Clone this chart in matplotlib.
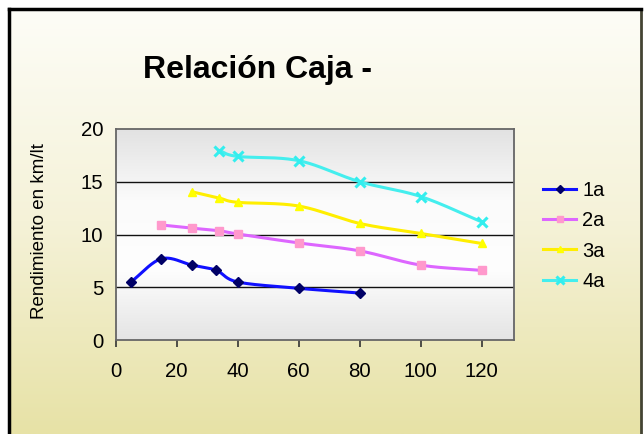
import numpy as np
import matplotlib
matplotlib.use("Agg")
import matplotlib.pyplot as plt
from matplotlib.colors import LinearSegmentedColormap
from matplotlib.lines import Line2D

plt.rcParams['font.family'] = ['Liberation Sans', 'DejaVu Sans']

# ---- data ----
title = "Relación Caja -"
ylabel = "Rendimiento en km/lt"
series_names = ["1a", "2a", "3a", "4a"]
x1 = [5, 15, 25, 33, 40, 60, 80]
y1 = [5.5, 7.7, 7.1, 6.6, 5.5, 4.9, 4.45]
x2 = [15, 25, 34, 40, 60, 80, 100, 120]
y2 = [10.9, 10.6, 10.35, 10.05, 9.2, 8.45, 7.1, 6.6]
x3 = [25, 34, 40, 60, 80, 100, 120]
y3 = [14.05, 13.45, 13.05, 12.7, 11.05, 10.1, 9.15]
x4 = [34, 40, 60, 80, 100, 120]
y4 = [17.95, 17.4, 17.0, 15.0, 13.6, 11.2]
xticks = [0, 20, 40, 60, 80, 100, 120]
yticks = [0, 5, 10, 15, 20]

line_colors = ["#1010ff", "#dd66ff", "#ffee00", "#44eeee"]
marker_face = ["#000066", "#ff99cc", "#ffff00", "#33eeee"]
markers = ["D", "s", "^", "x"]

W, H = 644, 434
fig = plt.figure(figsize=(W / 100, H / 100), dpi=100)
fig.patch.set_facecolor("white")

# background panel with gradient
bg = fig.add_axes([9 / W, 0, (641 - 9) / W, (H - 9) / H], zorder=0)
grad = np.linspace(0, 1, 256).reshape(-1, 1)
cm_bg = LinearSegmentedColormap.from_list("bg", ["#fdfdf7", "#f5f2d8", "#e7e2a6"])
bg.imshow(grad, aspect="auto", cmap=cm_bg, extent=[0, 1, 0, 1], origin="upper")
bg.set_xlim(0, 1); bg.set_ylim(0, 1)
bg.set_xticks([]); bg.set_yticks([])
bg.spines["bottom"].set_visible(False)
bg.spines["top"].set_linewidth(2.5)
bg.spines["left"].set_linewidth(2.5)
bg.spines["right"].set_linewidth(2.0)
bg.spines["right"].set_color("#444433")

# main axes
ax = fig.add_axes([115.7 / W, 94 / H, 398.6 / W, 211 / H], zorder=2)
cm_pa = LinearSegmentedColormap.from_list("pa", ["#e2e2e2", "#fbfbfb", "#fefefe", "#e4e4e4"])
ax.imshow(grad, aspect="auto", cmap=cm_pa, extent=[0, 1, 0, 1],
          transform=ax.transAxes, origin="upper", zorder=0)
ax.set_xlim(0, 130.7)
ax.set_ylim(0, 20)
for yv in yticks[1:-1]:
    ax.axhline(yv, color="#111111", lw=1.0, zorder=1)
for s in ax.spines.values():
    s.set_color("#666666")
    s.set_linewidth(1.3)


def smooth(xs, ys, sx=3.05, sy=10.55, n=30):
    P = np.column_stack([np.asarray(xs, float) * sx, np.asarray(ys, float) * sy])
    if len(P) < 3:
        return xs, ys
    ext = np.vstack([2 * P[0] - P[1], P, 2 * P[-1] - P[-2]])
    out = []
    for i in range(1, len(ext) - 2):
        p0, p1, p2, p3 = ext[i - 1], ext[i], ext[i + 1], ext[i + 2]
        t = np.linspace(0, 1, n, endpoint=False)[:, None]
        c = 0.5 * ((2 * p1) + (-p0 + p2) * t + (2 * p0 - 5 * p1 + 4 * p2 - p3) * t ** 2
                   + (-p0 + 3 * p1 - 3 * p2 + p3) * t ** 3)
        out.append(c)
    out.append(P[-1:])
    out = np.vstack(out)
    return out[:, 0] / sx, out[:, 1] / sy


data = [(x1, y1), (x2, y2), (x3, y3), (x4, y4)]
handles = []
for i, (xs, ys) in enumerate(data):
    sx_, sy_ = smooth(xs, ys)
    ax.plot(sx_, sy_, color=line_colors[i], lw=2.2, zorder=3, clip_on=False)
    mkw = dict(marker=markers[i], ms=6, mfc=marker_face[i], mec=marker_face[i])
    if markers[i] == "x":
        mkw["ms"] = 7
        mkw["mew"] = 2.2
    if markers[i] == "D":
        mkw["ms"] = 5.5
    ax.plot(xs, ys, linestyle="none", zorder=4, clip_on=False, **mkw)
    lkw = dict(mkw)
    lkw["ms"] = mkw["ms"] * 0.8
    h = Line2D([], [], color=line_colors[i], lw=2.2, **lkw)
    handles.append(h)

ax.set_xticks(xticks)
ax.set_yticks(yticks)
ax.tick_params(axis="x", length=5, width=1.2, color="#333333", pad=11, labelsize=14.7)
ax.tick_params(axis="y", length=0, pad=9, labelsize=14.7)

fig.text(257.5 / W, 1 - 70 / H, title, fontsize=23, fontweight="bold",
         ha="center", va="center", zorder=5)
fig.text(40 / W, 1 - 231 / H, ylabel, fontsize=13.5, rotation=90,
         ha="center", va="center", zorder=5)

fig.legend(handles, series_names, loc="center left",
           bbox_to_anchor=(543 / W, 1 - 236 / H), frameon=False,
           fontsize=14.5, handlelength=1.65, handletextpad=0.3, labelspacing=0.55,
           borderpad=0, borderaxespad=0)

fig.savefig("out.png", dpi=100)
